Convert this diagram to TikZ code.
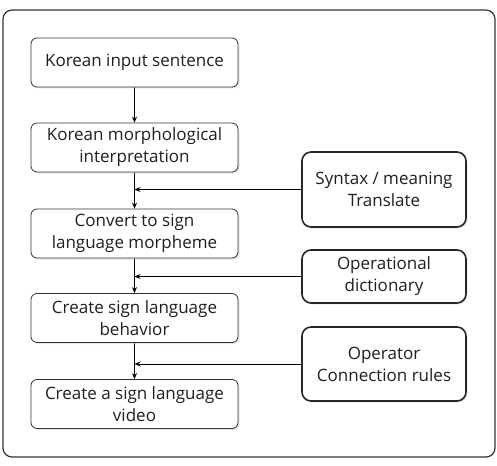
\documentclass[tikz,border=0pt]{standalone}
\usepackage{fontspec}
\setmainfont{Open Sans}
\usetikzlibrary{shadows,arrows.meta}
\pgfdeclarelayer{edgelayer}
\pgfdeclarelayer{nodelayer}
\pgfsetlayers{edgelayer,nodelayer,main}
\tikzstyle{stepbox}=[rectangle, rounded corners=6pt, draw=black!80, fill=white, line width=0.8pt, minimum width=207pt, minimum height=49pt, align=center, font=\fontsize{17}{22}\selectfont, text=black!88, drop shadow={shadow xshift=1.5pt, shadow yshift=-1.5pt, fill=black!20}]
\tikzstyle{sourcebox}=[rectangle, rounded corners=9pt, draw=black!85, fill=white, line width=1.6pt, minimum width=164pt, align=center, font=\fontsize{17}{22}\selectfont, text=black!88, drop shadow={shadow xshift=1.5pt, shadow yshift=-1.5pt, fill=black!15}]
\tikzstyle{flow}=[draw=black, line width=0.9pt, -{Stealth[length=6pt,width=5pt]}]
\tikzstyle{feed}=[draw=black, line width=0.9pt, -{Stealth[length=6pt,width=5pt]}]

\begin{document}
\begin{tikzpicture}[x=1pt, y=-1pt]
	\useasboundingbox (0, 0) rectangle (497, 465);
	\draw [draw=black!80, line width=1.2pt, rounded corners=9pt] (3, 10) rectangle (495, 457);
	\begin{pgfonlayer}{nodelayer}
		\node [style=stepbox] (input) at (134.5, 62.5) {Korean input sentence};
		\node [style=stepbox] (morph) at (134.5, 147.5) {Korean morphological\\interpretation};
		\node [style=stepbox] (convert) at (134.5, 233.5) {Convert to sign\\language morpheme};
		\node [style=stepbox] (behavior) at (134.5, 318) {Create sign language\\behavior};
		\node [style=stepbox] (video) at (134.5, 404) {Create a sign language\\video};
		\node [style=sourcebox, minimum height=75pt] (syntax) at (384, 189.5) {Syntax / meaning\\Translate};
		\node [style=sourcebox, minimum height=53pt] (dict) at (384, 276.5) {Operational\\dictionary};
		\node [style=sourcebox, minimum height=74pt] (rules) at (384, 364) {Operator\\Connection rules};
	\end{pgfonlayer}
	\begin{pgfonlayer}{edgelayer}
		\draw [style=flow] (input) to (morph);
		\draw [style=flow] (morph) to (convert);
		\draw [style=flow] (convert) to (behavior);
		\draw [style=flow] (behavior) to (video);
		\draw [style=feed] (syntax.west) to (syntax.west -| morph.south);
		\draw [style=feed] (dict.west) to (dict.west -| convert.south);
		\draw [style=feed] (rules.west) to (rules.west -| behavior.south);
	\end{pgfonlayer}
\end{tikzpicture}
\end{document}
